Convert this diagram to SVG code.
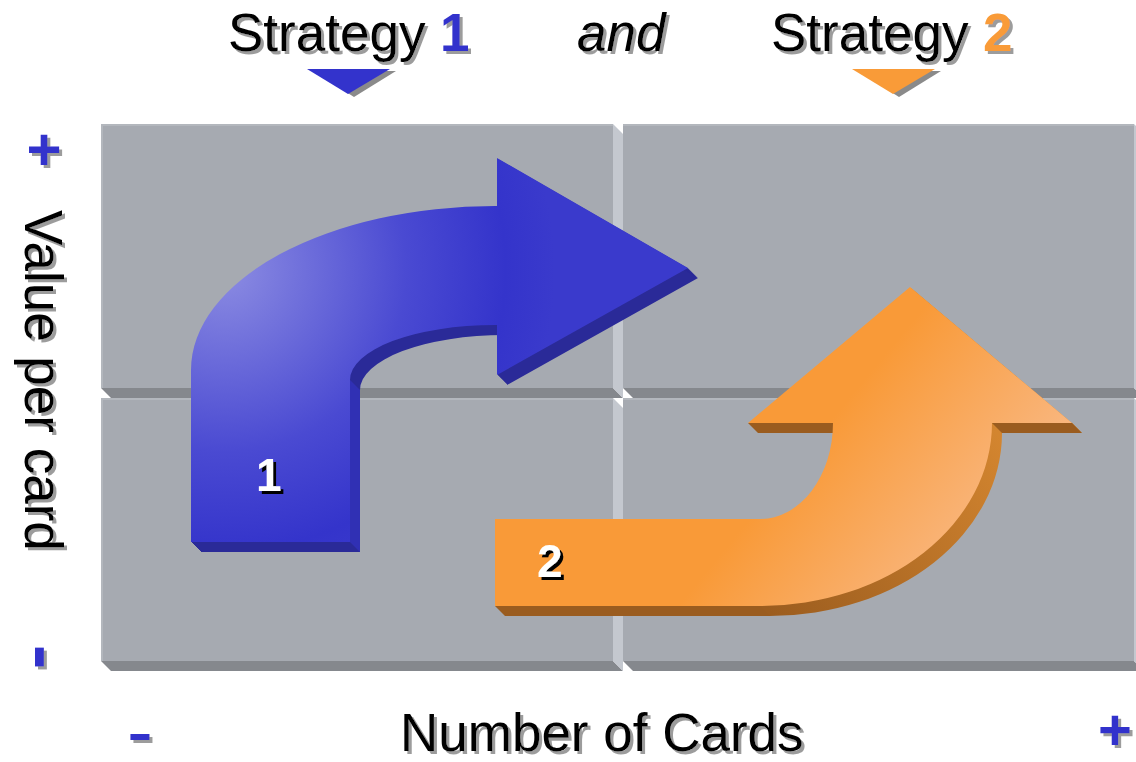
<svg xmlns="http://www.w3.org/2000/svg" xmlns:xlink="http://www.w3.org/1999/xlink" width="1136" height="762" viewBox="0 0 1136 762">
<style>
.face{fill:#a6aab1}
.bot{fill:#85888d}
.side{fill:#c4c8cf}
.hl{fill:#b3b7bd}
.lbl{font-family:"Liberation Sans",Arial,sans-serif;font-size:53px;fill:#000}
.sign{font-family:"Liberation Sans",Arial,sans-serif;font-weight:bold;fill:#3333cc}
.num{font-family:"Liberation Sans",Arial,sans-serif;font-weight:bold;font-size:46px;fill:#fff}
.ext1{fill:#2a2a98}
.ext2{fill:url(#ge2)}
.dk2{fill:#9a5c1f}
</style>
<defs>
<filter id="sh" x="-10%" y="-10%" width="130%" height="140%">
<feDropShadow dx="3" dy="3" stdDeviation="0.4" flood-color="#9c9c9c" flood-opacity="1"/>
</filter>
<filter id="shk" x="-20%" y="-20%" width="150%" height="150%">
<feDropShadow dx="3" dy="3" stdDeviation="0.3" flood-color="#000" flood-opacity="1"/>
</filter>
<radialGradient id="g1" gradientUnits="userSpaceOnUse" cx="225" cy="270" r="330">
<stop offset="0" stop-color="#8c8ce2"/>
<stop offset="0.55" stop-color="#4a4ad2"/>
<stop offset="0.85" stop-color="#3434cb"/>
<stop offset="1" stop-color="#3a3acc"/>
</radialGradient>
<linearGradient id="g2" gradientUnits="userSpaceOnUse" x1="790" y1="470" x2="960" y2="610">
<stop offset="0" stop-color="#f99a38"/>
<stop offset="1" stop-color="#f9bb8a"/>
</linearGradient>
<linearGradient id="ge2" gradientUnits="userSpaceOnUse" x1="770" y1="615" x2="1000" y2="440">
<stop offset="0" stop-color="#9c5d1f"/>
<stop offset="1" stop-color="#d3852f"/>
</linearGradient>
<path id="p1" d="M191 542 L191 370 A304 164 0 0 1 495 206 L497 206 L497 158 L688 268 L497 375 L497 325 L495 325 A145 55 0 0 0 350 380 L350 542 Z"/>
<path id="p2" d="M495 519 L760 519 A73 96 0 0 0 833 423 L748 423 L910 287 L1072 423 L992 423 A232 183 0 0 1 760 606 L495 606 Z"/>
</defs>
<rect width="1136" height="762" fill="#fff"/>

<g id="tiles">
<g id="tile-tl">
<rect class="face" x="101" y="124" width="512" height="264"/>
<rect class="hl" x="101" y="124" width="512" height="2"/>
<rect class="hl" x="101" y="124" width="2" height="264"/>
<polygon class="bot" points="101,388 613,388 623,398 111,398"/>
<polygon class="side" points="613,124 623,134 623,398 613,388"/>
</g>
<g id="tile-tr">
<rect class="face" x="623" y="124" width="511" height="264"/>
<rect class="hl" x="623" y="124" width="511" height="2"/>
<polygon class="bot" points="623,388 1134,388 1144,398 633,398"/>
<polygon class="side" points="1134,124 1144,134 1144,398 1134,388"/>
</g>
<g id="tile-bl">
<rect class="face" x="101" y="398" width="512" height="263"/>
<rect class="hl" x="101" y="398" width="512" height="2"/>
<rect class="hl" x="101" y="398" width="2" height="263"/>
<polygon class="bot" points="101,661 613,661 623,671 111,671"/>
<polygon class="side" points="613,398 623,408 623,671 613,661"/>
</g>
<g id="tile-br">
<rect class="face" x="623" y="398" width="511" height="263"/>
<rect class="hl" x="623" y="398" width="511" height="2"/>
<polygon class="bot" points="623,661 1134,661 1144,671 633,671"/>
<polygon class="side" points="1134,398 1144,408 1144,671 1134,661"/>
</g>
</g>

<g id="arrow1">
<g class="ext1">
<use xlink:href="#p1" transform="translate(1,1)"/>
<use xlink:href="#p1" transform="translate(2,2)"/>
<use xlink:href="#p1" transform="translate(3,3)"/>
<use xlink:href="#p1" transform="translate(4,4)"/>
<use xlink:href="#p1" transform="translate(5,5)"/>
<use xlink:href="#p1" transform="translate(6,6)"/>
<use xlink:href="#p1" transform="translate(7,7)"/>
<use xlink:href="#p1" transform="translate(8,8)"/>
<use xlink:href="#p1" transform="translate(9,9)"/>
<use xlink:href="#p1" transform="translate(10,10)"/>
</g>
<polygon points="350,380 360,390 360,552 350,542" fill="#3030b4"/>
<use xlink:href="#p1" fill="url(#g1)"/>
<g filter="url(#shk)"><text class="num" x="256" y="491">1</text></g>
</g>

<g id="arrow2">
<g class="ext2">
<use xlink:href="#p2" transform="translate(1,1)"/>
<use xlink:href="#p2" transform="translate(2,2)"/>
<use xlink:href="#p2" transform="translate(3,3)"/>
<use xlink:href="#p2" transform="translate(4,4)"/>
<use xlink:href="#p2" transform="translate(5,5)"/>
<use xlink:href="#p2" transform="translate(6,6)"/>
<use xlink:href="#p2" transform="translate(7,7)"/>
<use xlink:href="#p2" transform="translate(8,8)"/>
<use xlink:href="#p2" transform="translate(9,9)"/>
<use xlink:href="#p2" transform="translate(10,10)"/>
</g>
<polygon class="dk2" points="748,423 833,423 843,433 758,433"/>
<polygon class="dk2" points="992,423 1072,423 1082,433 1002,433"/>
<polygon class="dk2" points="495,606 760,606 770,616 505,616"/>
<use xlink:href="#p2" fill="url(#g2)"/>
<g filter="url(#shk)"><text class="num" x="537" y="577">2</text></g>
</g>

<g id="header" filter="url(#sh)">
<text class="lbl" x="228" y="51">Strategy <tspan font-weight="bold" fill="#3333cc">1</tspan></text>
<text class="lbl" x="577" y="51" font-style="italic">and</text>
<text class="lbl" x="771" y="51">Strategy <tspan font-weight="bold" fill="#f99b38">2</tspan></text>
</g>

<g id="markers">
<polygon points="313,71 396,71 354,97" fill="#8a8a8a"/>
<polygon points="307,69 390,69 348,94" fill="#3333cc"/>
<polygon points="858,71 941,71 899,97" fill="#8a8a8a"/>
<polygon points="852,69 935,69 893,94" fill="#f99b38"/>
</g>

<g id="axes" filter="url(#sh)">
<text class="lbl" x="400" y="751">Number of Cards</text>
<text class="lbl" transform="translate(25,210) rotate(90)">Value per card</text>
<text class="sign" x="44" y="170" font-size="60" text-anchor="middle">+</text>
<text class="sign" x="1115" y="750" font-size="58" text-anchor="middle">+</text>
<text class="sign" x="140" y="750" font-size="50" text-anchor="middle" transform="translate(140,0) scale(1.5,1) translate(-140,0)">-</text>
<text class="sign" font-size="74" text-anchor="middle" transform="translate(20,657) rotate(90)">-</text>
</g>
</svg>
